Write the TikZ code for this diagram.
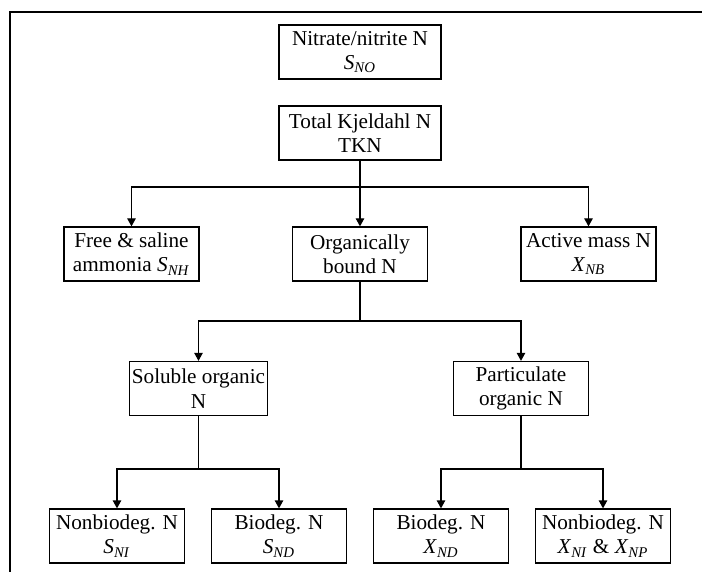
\documentclass[tikz,border=0pt]{standalone}
\usepackage{fontspec}
\setmainfont{Liberation Serif}
\usetikzlibrary{arrows.meta}
\newcommand{\nsym}[2]{\textit{#1}\textsubscript{\textit{#2}}}
\tikzset{
  nbox/.style={draw,line width=0.6pt,align=center,inner sep=1pt,
    minimum width=67.5pt,minimum height=27pt,
    font=\fontsize{10.6}{12.2}\selectfont},
  wbox/.style={nbox,minimum width=81pt},
  link/.style={line width=0.6pt},
  down/.style={link,-{Triangle[length=4pt,width=4.2pt]}}
}
\begin{document}
\begin{tikzpicture}[x=0.5pt,y=-0.5pt]
  \useasboundingbox (0,0) rectangle (702,572);
  \draw[line width=0.8pt] (10,572) -- (10,12) -- (702,12);% frame, left and top
  % top
  \node[wbox] (nitrate) at (360,52) {Nitrate/nitrite N\\\nsym{S}{NO}};
  \node[wbox] (tkn) at (360,133) {Total Kjeldahl N\\TKN};
  % TKN split
  \node[nbox] (free) at (131.5,254) {Free \& saline\\ammonia \nsym{S}{NH}};
  \node[nbox] (org) at (360,254) {Organically\\bound N};
  \node[nbox] (active) at (588.5,254) {Active mass N\\\nsym{X}{NB}};
  % organic split
  \node[nbox] (sol) at (198.5,388.5) {Soluble organic\\N};
  \node[nbox] (part) at (521,388.5) {Particulate\\organic N};
  % bottom row
  \node[nbox] (snon) at (117,536) {Nonbiodeg. N\\\nsym{S}{NI}};
  \node[nbox] (sbio) at (279,536) {Biodeg. N\\\nsym{S}{ND}};
  \node[nbox] (xbio) at (441,536) {Biodeg. N\\\nsym{X}{ND}};
  \node[nbox] (xnon) at (603,536) {Nonbiodeg. N\\\nsym{X}{NI} \& \nsym{X}{NP}};
  % branch points
  \coordinate (b1) at (360,187);
  \coordinate (b2) at (360,321);
  \coordinate (b3) at (198.5,469);
  \coordinate (b4) at (521,469);
  \draw[link] (tkn) -- (b1);
  \draw[down] (b1) -| (free);
  \draw[down] (b1) -- (org);
  \draw[down] (b1) -| (active);
  \draw[link] (org) -- (b2);
  \draw[down] (b2) -| (sol);
  \draw[down] (b2) -| (part);
  \draw[link] (sol) -- (b3);
  \draw[down] (b3) -| (snon);
  \draw[down] (b3) -| (sbio);
  \draw[link] (part) -- (b4);
  \draw[down] (b4) -| (xbio);
  \draw[down] (b4) -| (xnon);
\end{tikzpicture}
\end{document}
